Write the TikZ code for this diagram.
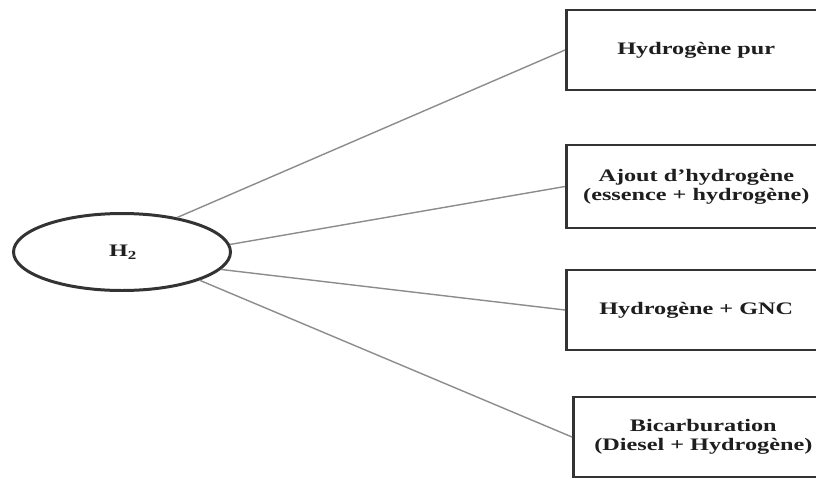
\documentclass[tikz,border=0pt]{standalone}
\usepackage{fontspec}
\setmainfont{Liberation Serif}[FakeStretch=1.38]
\usetikzlibrary{shapes.geometric}
\definecolor{edgegray}{HTML}{333333}
\definecolor{linkgray}{HTML}{8C8C8C}
\definecolor{txtdark}{HTML}{1E1E1E}

\begin{document}
\begin{tikzpicture}[
  x=0.02cm, y=-0.02cm,
  hub/.style={
    ellipse, draw=edgegray, line width=1.7pt, fill=white,
    minimum width=43.4mm, minimum height=15.4mm, inner sep=0pt,
    font=\fontsize{10}{11}\selectfont\bfseries, text=txtdark
  },
  usebox/.style={
    rectangle, draw=edgegray, line width=1.5pt, fill=white,
    minimum width=52mm, minimum height=#1, anchor=west,
    font=\fontsize{10}{11}\selectfont\bfseries, text=txtdark,
    align=center, inner sep=2pt
  },
  link/.style={linkgray, line width=0.8pt},
]

% Page frame
\useasboundingbox (0,0) rectangle (816,478);

% =============================================
% Central node
% =============================================
\node[hub] (h2) at (122,252) {H$_{\mathbf 2}$};

% =============================================
% Right column: uses of hydrogen
% =============================================
\node[usebox=16mm] (pur) at (565,50) {Hydrogène pur};

\node[usebox=16.6mm] (ajout) at (565,186.5)
  {Ajout d'hydrogène\\(essence + hydrogène)};

\node[usebox=16mm] (gnc) at (565,310) {Hydrogène + GNC};

\node[usebox=16mm] (bicarb) at (572,437)
  {Bicarburation\\(Diesel + Hydrogène)};

% =============================================
% Connectors
% =============================================
\draw[link] (h2.32) -- (pur.west);
\draw[link] (h2.4) -- (ajout.west);
\draw[link] (h2.-10) -- (gnc.west);
\draw[link] (h2.-20) -- (bicarb.west);

\end{tikzpicture}
\end{document}
